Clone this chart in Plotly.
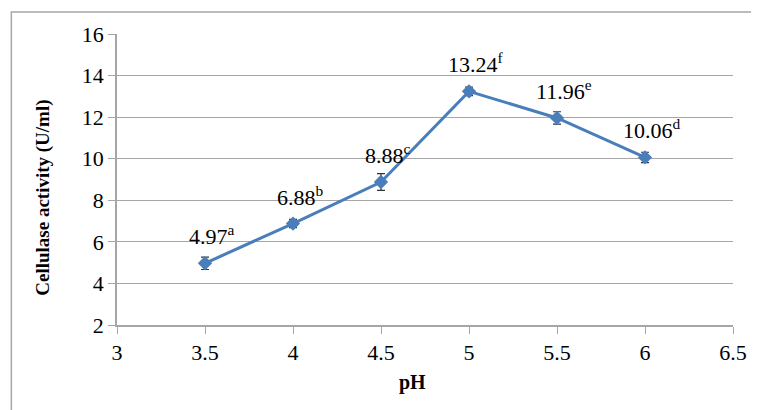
import plotly.graph_objects as go

ph = [3.5, 4, 4.5, 5, 5.5, 6]
activity = [4.97, 6.88, 8.88, 13.24, 11.96, 10.06]
errors = [0.3, 0.2, 0.4, 0.2, 0.3, 0.25]
letters = ["a", "b", "c", "f", "e", "d"]

x_ticks = [3, 3.5, 4, 4.5, 5, 5.5, 6, 6.5]
x_tick_labels = ["3", "3.5", "4", "4.5", "5", "5.5", "6", "6.5"]
y_ticks = [2, 4, 6, 8, 10, 12, 14, 16]

blue = "#4A7EBB"
grey = "#A6A6A6"
serif = "Times New Roman, Liberation Serif, DejaVu Serif, serif"

fig = go.Figure()
fig.add_trace(go.Scatter(
    x=ph, y=activity, mode="lines+markers",
    line=dict(color=blue, width=3),
    marker=dict(symbol="diamond", size=11, color=blue),
    error_y=dict(type="data", array=errors, visible=True, color="#333333", thickness=1.2, width=4),
    showlegend=False,
))

for xv, yv, lt in zip(ph, activity, letters):
    fig.add_annotation(
        x=xv, y=yv, text=f"{yv:.2f}<sup>{lt}</sup>", showarrow=False,
        xanchor="center", yanchor="middle", xshift=7, yshift=28,
        font=dict(family=serif, size=22, color="black"),
    )

# axis titles
fig.add_annotation(x=-0.1214, y=0.438, xref="paper", yref="paper", showarrow=False,
                   text="<b>Cellulase activity (U/ml)</b>", textangle=-90,
                   xanchor="center", yanchor="middle",
                   font=dict(family=serif, size=19, color="black"))
fig.add_annotation(x=0.479, y=-0.199, xref="paper", yref="paper", showarrow=False,
                   text="<b>pH</b>", xanchor="center", yanchor="middle",
                   font=dict(family=serif, size=20, color="black"))

# outer frame
fig.add_shape(type="rect", xref="paper", yref="paper",
              x0=-0.1715, x1=1.1, y0=-0.4, y1=1.0756,
              line=dict(color=grey, width=1.5), layer="below")

fig.update_layout(
    width=751, height=402,
    margin=dict(l=109, r=24, t=26, b=85),
    paper_bgcolor="white", plot_bgcolor="white",
    font=dict(family=serif, color="black"),
    xaxis=dict(
        range=[3, 6.5], tickvals=x_ticks, ticktext=x_tick_labels,
        showgrid=False, zeroline=False,
        showline=True, linecolor=grey, linewidth=1.5,
        ticks="outside", ticklen=7, tickcolor=grey,
        tickfont=dict(family=serif, size=22, color="black"),
    ),
    yaxis=dict(
        range=[2, 16], tickvals=y_ticks,
        showgrid=True, gridcolor=grey, gridwidth=1.2,
        zeroline=False,
        showline=True, linecolor=grey, linewidth=1.5,
        ticks="outside", ticklen=7, tickcolor=grey,
        tickfont=dict(family=serif, size=22, color="black"),
    ),
)

fig.write_html("out.html")
